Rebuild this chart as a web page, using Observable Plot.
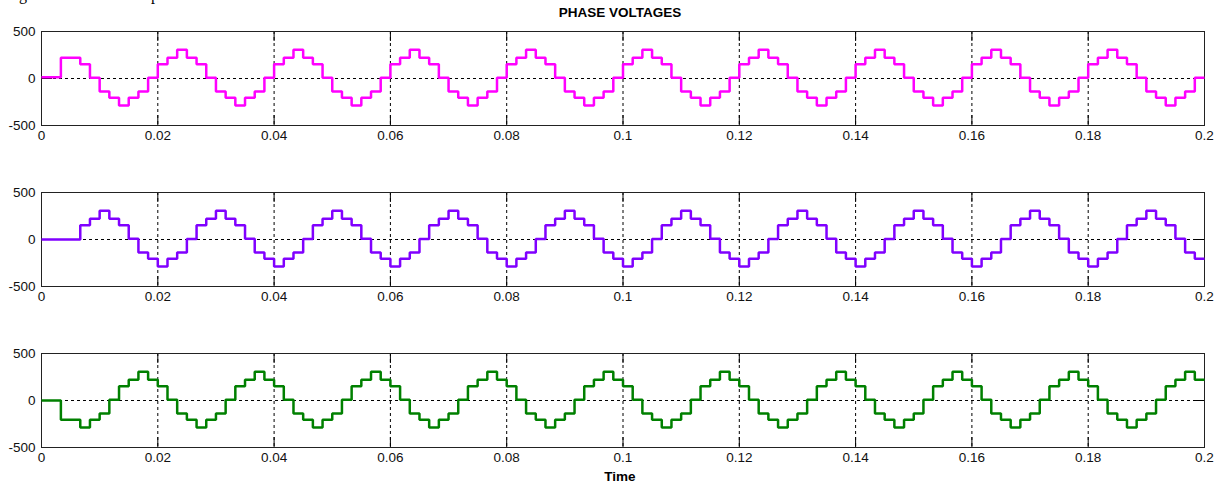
<!DOCTYPE html>
<html>
<head>
<meta charset="utf-8">
<script src="https://cdn.jsdelivr.net/npm/d3@7"></script>
<script src="https://cdn.jsdelivr.net/npm/@observablehq/plot@0.6"></script>
<style>
html, body { margin: 0; padding: 0; background: #fff; overflow: hidden; }
#page { position: relative; width: 1222px; height: 489px; overflow: hidden; background: #fff; }
.cap { position: absolute; top: -13px; font-family: "Liberation Serif", "Times New Roman", serif; font-size: 16px; line-height: 16px; white-space: nowrap; color: #000; }
.title, .xlabel { position: absolute; left: 18px; width: 1204px; text-align: center; font-family: "Liberation Sans", Arial, sans-serif; font-weight: bold; font-size: 13.5px; line-height: 14px; color: #000; }
.panel { position: absolute; left: 0; }
</style>
</head>
<body>
<div id="page"></div>
<script>
// ---------- data ----------
const chartTitle = "PHASE VOLTAGES";
const xAxisTitle = "Time";
const captionText = "Figure 4.4 Inverter output";

// step times (s): one step every 1/600 s (12 steps per 50 Hz cycle)
const time = [
  0, 0.001667, 0.003333, 0.005, 0.006667, 0.008333, 0.01, 0.011667, 0.013333, 0.015, 0.016667, 0.018333,
  0.02, 0.021667, 0.023333, 0.025, 0.026667, 0.028333, 0.03, 0.031667, 0.033333, 0.035, 0.036667, 0.038333,
  0.04, 0.041667, 0.043333, 0.045, 0.046667, 0.048333, 0.05, 0.051667, 0.053333, 0.055, 0.056667, 0.058333,
  0.06, 0.061667, 0.063333, 0.065, 0.066667, 0.068333, 0.07, 0.071667, 0.073333, 0.075, 0.076667, 0.078333,
  0.08, 0.081667, 0.083333, 0.085, 0.086667, 0.088333, 0.09, 0.091667, 0.093333, 0.095, 0.096667, 0.098333,
  0.1, 0.101667, 0.103333, 0.105, 0.106667, 0.108333, 0.11, 0.111667, 0.113333, 0.115, 0.116667, 0.118333,
  0.12, 0.121667, 0.123333, 0.125, 0.126667, 0.128333, 0.13, 0.131667, 0.133333, 0.135, 0.136667, 0.138333,
  0.14, 0.141667, 0.143333, 0.145, 0.146667, 0.148333, 0.15, 0.151667, 0.153333, 0.155, 0.156667, 0.158333,
  0.16, 0.161667, 0.163333, 0.165, 0.166667, 0.168333, 0.17, 0.171667, 0.173333, 0.175, 0.176667, 0.178333,
  0.18, 0.181667, 0.183333, 0.185, 0.186667, 0.188333, 0.19, 0.191667, 0.193333, 0.195, 0.196667, 0.198333,
  0.2
];

// phase voltage held during each step (V)
const phaseA = [
  12, 12, 220, 220, 152, 8, -137, -205, -287, -205, -137, 8,
  152, 220, 305, 220, 152, 8, -137, -205, -287, -205, -137, 8,
  152, 220, 305, 220, 152, 8, -137, -205, -287, -205, -137, 8,
  152, 220, 305, 220, 152, 8, -137, -205, -287, -205, -137, 8,
  152, 220, 305, 220, 152, 8, -137, -205, -287, -205, -137, 8,
  152, 220, 305, 220, 152, 8, -137, -205, -287, -205, -137, 8,
  152, 220, 305, 220, 152, 8, -137, -205, -287, -205, -137, 8,
  152, 220, 305, 220, 152, 8, -137, -205, -287, -205, -137, 8,
  152, 220, 305, 220, 152, 8, -137, -205, -287, -205, -137, 8,
  152, 220, 305, 220, 152, 8, -137, -205, -287, -205, -137, 8
];
const phaseB = [
  0, 0, 0, 0, 152, 220, 305, 220, 152, 8, -137, -205,
  -287, -205, -137, 4, 152, 220, 305, 220, 152, 8, -137, -205,
  -287, -205, -137, 4, 152, 220, 305, 220, 152, 8, -137, -205,
  -287, -205, -137, 4, 152, 220, 305, 220, 152, 8, -137, -205,
  -287, -205, -137, 4, 152, 220, 305, 220, 152, 8, -137, -205,
  -287, -205, -137, 4, 152, 220, 305, 220, 152, 8, -137, -205,
  -287, -205, -137, 4, 152, 220, 305, 220, 152, 8, -137, -205,
  -287, -205, -137, 4, 152, 220, 305, 220, 152, 8, -137, -205,
  -287, -205, -137, 4, 152, 220, 305, 220, 152, 8, -137, -205,
  -287, -205, -137, 4, 152, 220, 305, 220, 152, 8, -137, -205
];
const phaseC = [
  0, 0, -205, -205, -287, -205, -137, 8, 152, 220, 305, 220,
  152, 8, -137, -205, -287, -205, -137, 8, 152, 220, 305, 220,
  152, 8, -137, -205, -287, -205, -137, 8, 152, 220, 305, 220,
  152, 8, -137, -205, -287, -205, -137, 8, 152, 220, 305, 220,
  152, 8, -137, -205, -287, -205, -137, 8, 152, 220, 305, 220,
  152, 8, -137, -205, -287, -205, -137, 8, 152, 220, 305, 220,
  152, 8, -137, -205, -287, -205, -137, 8, 152, 220, 305, 220,
  152, 8, -137, -205, -287, -205, -137, 8, 152, 220, 305, 220,
  152, 8, -137, -205, -287, -205, -137, 8, 152, 220, 305, 220,
  152, 8, -137, -205, -287, -205, -137, 8, 152, 220, 305, 220
];

const xTicks = [0, 0.02, 0.04, 0.06, 0.08, 0.1, 0.12, 0.14, 0.16, 0.18, 0.2];
const xTickLabels = ["0", "0.02", "0.04", "0.06", "0.08", "0.1", "0.12", "0.14", "0.16", "0.18", "0.2"];
const yTicks = [-500, 0, 500];
const yTickLabels = ["-500", "0", "500"];

// ---------- styles / layout ----------
const style = {
  colors: ["#ff00ff", "#8000ff", "#008000"],
  panelTops: [11, 172, 333],
  width: 1222, height: 140,
  marginLeft: 41, marginRight: 18, marginTop: 20, marginBottom: 26,
  tickLen: 10
};

const page = document.getElementById("page");

// cut-off caption line of the page above the figure
(function () {
  const ctx = document.createElement("canvas").getContext("2d");
  ctx.font = '16px "Liberation Serif", "Times New Roman", serif';
  const wFi = ctx.measureText("Fi").width;
  const pIdx = captionText.indexOf("p", 12);
  const pre = captionText.slice(0, pIdx);
  const wPre = ctx.measureText(pre).width;
  const spaces = (pre.match(/ /g) || []).length;
  const left = 19 - wFi;
  const ws = (151 - left - wPre) / spaces;
  const d = document.createElement("div");
  d.className = "cap";
  d.style.left = left + "px";
  d.style.wordSpacing = ws + "px";
  d.textContent = captionText;
  page.appendChild(d);
})();

const t = document.createElement("div");
t.className = "title";
t.style.top = "6px";
t.textContent = chartTitle;
page.appendChild(t);

function panel(values, color) {
  const rows = values.map((v, i) => ({t: time[i], v}));
  rows.push({t: time[values.length], v: values[values.length - 1]});
  const fw = style.width - style.marginLeft - style.marginRight;
  const fh = style.height - style.marginTop - style.marginBottom;
  return Plot.plot({
    width: style.width, height: style.height,
    marginLeft: style.marginLeft, marginRight: style.marginRight,
    marginTop: style.marginTop, marginBottom: style.marginBottom,
    x: {domain: [0, 0.2]},
    y: {domain: [-500, 500]},
    style: {fontFamily: '"Liberation Sans", Arial, sans-serif', fontSize: "13.5px", color: "#111", background: "transparent", overflow: "visible"},
    marks: [
      Plot.ruleX(xTicks, {x: d => d, stroke: "#000", strokeWidth: 1, strokeDasharray: "3,3"}),
      Plot.ruleY([0], {y: d => d, stroke: "#000", strokeWidth: 1, strokeDasharray: "3,3"}),
      Plot.tickX(xTicks, {x: d => d, insetBottom: fh - style.tickLen, stroke: "#000"}),
      Plot.tickX(xTicks, {x: d => d, insetTop: fh - style.tickLen, stroke: "#000"}),
      Plot.tickY(yTicks, {y: d => d, insetRight: fw - style.tickLen - 1, stroke: "#000"}),
      Plot.tickY(yTicks, {y: d => d, insetLeft: fw - style.tickLen - 1, stroke: "#000"}),
      Plot.frame({stroke: "#222"}),
      Plot.axisX({ticks: xTicks, tickFormat: d => xTickLabels[xTicks.indexOf(d)], tickSize: 0, tickPadding: 5, label: null}),
      Plot.axisY({ticks: yTicks, tickFormat: d => yTickLabels[yTicks.indexOf(d)], tickSize: 0, tickPadding: 6, label: null}),
      Plot.line(rows, {x: "t", y: "v", curve: "step-after", stroke: color, strokeWidth: 2.5, strokeLinejoin: "miter", strokeLinecap: "butt"})
    ]
  });
}

[phaseA, phaseB, phaseC].forEach((vals, i) => {
  const svg = panel(vals, style.colors[i]);
  svg.classList.add("panel");
  svg.style.top = style.panelTops[i] + "px";
  page.appendChild(svg);
});

const xl = document.createElement("div");
xl.className = "xlabel";
xl.style.top = "470px";
xl.textContent = xAxisTitle;
page.appendChild(xl);
</script>
</body>
</html>
